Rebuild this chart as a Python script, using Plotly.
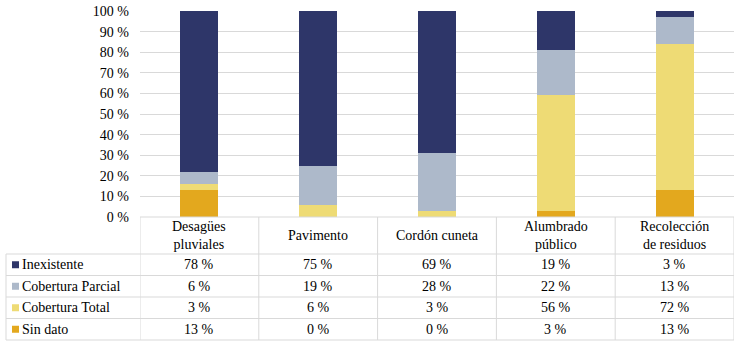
import plotly.graph_objects as go

# ---------------- data ----------------
categories = ["Desagües pluviales", "Pavimento", "Cordón cuneta",
              "Alumbrado público", "Recolección de residuos"]
category_labels = ["Desagües<br>pluviales", "Pavimento", "Cordón cuneta",
                   "Alumbrado<br>público", "Recolección<br>de residuos"]
series_names = ["Inexistente", "Cobertura Parcial", "Cobertura Total", "Sin dato"]
inexistente = [78, 75, 69, 19, 3]
cobertura_parcial = [6, 19, 28, 22, 13]
cobertura_total = [3, 6, 3, 56, 72]
sin_dato = [13, 0, 0, 3, 13]
series_values = [inexistente, cobertura_parcial, cobertura_total, sin_dato]
series_colors = ["#2E3669", "#ADB9CA", "#EEDB75", "#E3A81E"]
y_ticks = [0, 10, 20, 30, 40, 50, 60, 70, 80, 90, 100]
y_tick_labels = [f"{v} %" for v in y_ticks]

# ---------------- geometry helpers ----------------
W, H = 738, 345
def px(x):
    return x / W
def py(y):
    return 1 - y / H

FONT = "Liberation Serif"
FS = 14
GRID = "#d9d9d9"
plot_left, plot_right, plot_top, plot_bottom = 140, 734, 10.8, 217
header_bottom = 254
row_h = 21.5
table_left = 6

fig = go.Figure()

# stacked bars (bottom first)
for name, vals, col in reversed(list(zip(series_names, series_values, series_colors))):
    fig.add_trace(go.Bar(x=categories, y=vals, name=name, marker_color=col,
                         marker_line_width=0, hoverinfo="skip"))

shapes = []
annotations = []

# horizontal table lines
shapes.append(dict(type="line", xref="paper", yref="paper",
                   x0=px(plot_left), x1=px(plot_right), y0=py(plot_bottom), y1=py(plot_bottom),
                   line=dict(color=GRID, width=1)))
for i in range(len(series_names) + 1):
    yy = header_bottom + i * row_h
    shapes.append(dict(type="line", xref="paper", yref="paper",
                       x0=px(table_left), x1=px(plot_right), y0=py(yy), y1=py(yy),
                       line=dict(color=GRID, width=1)))
table_bottom = header_bottom + len(series_names) * row_h

# vertical table lines
shapes.append(dict(type="line", xref="paper", yref="paper",
                   x0=px(table_left), x1=px(table_left), y0=py(header_bottom), y1=py(table_bottom),
                   line=dict(color=GRID, width=1)))
for j in range(len(categories) + 1):
    shapes.append(dict(type="line", xref="x", yref="paper",
                       x0=j - 0.5, x1=j - 0.5, y0=py(plot_bottom), y1=py(table_bottom),
                       line=dict(color=GRID, width=1)))

# header labels
for cat, lab in zip(categories, category_labels):
    annotations.append(dict(x=cat, xref="x", y=py((plot_bottom + header_bottom) / 2), yref="paper",
                            text=lab, showarrow=False, xanchor="center", yanchor="middle",
                            font=dict(family=FONT, size=FS, color="#000000")))

# rows
for i, (name, vals, col) in enumerate(zip(series_names, series_values, series_colors)):
    yc = header_bottom + i * row_h + row_h / 2
    shapes.append(dict(type="rect", xref="paper", yref="paper",
                       x0=px(12), x1=px(19), y0=py(yc + 3.5), y1=py(yc - 3.5),
                       fillcolor=col, line=dict(width=0)))
    annotations.append(dict(x=px(20), xref="paper", y=py(yc), yref="paper",
                            text=name, showarrow=False, xanchor="left", yanchor="middle",
                            font=dict(family=FONT, size=FS, color="#000000")))
    for cat, v in zip(categories, vals):
        annotations.append(dict(x=cat, xref="x", y=py(yc), yref="paper",
                                text=f"{v} %", showarrow=False, xanchor="center", yanchor="middle",
                                font=dict(family=FONT, size=FS, color="#000000")))

fig.update_layout(
    template="none",
    width=W, height=H,
    margin=dict(l=0, r=0, t=0, b=0),
    paper_bgcolor="white", plot_bgcolor="white",
    barmode="stack", barnorm="percent", bargap=0.68,
    showlegend=False,
    font=dict(family=FONT, size=FS, color="#000000"),
    xaxis=dict(domain=[px(plot_left), px(plot_right)], range=[-0.5, 4.5],
               showticklabels=False, showgrid=False, zeroline=False, showline=False,
               ticks="", fixedrange=True),
    yaxis=dict(domain=[py(plot_bottom), py(plot_top)], range=[0, 100.1],
               tickvals=y_ticks, ticktext=y_tick_labels,
               showgrid=True, gridcolor=GRID, gridwidth=1,
               zeroline=False, showline=False, ticks="", automargin=False,
               ticklabelstandoff=10, ticklabeloverflow="allow", fixedrange=True,
               tickfont=dict(family=FONT, size=FS, color="#000000")),
    shapes=shapes, annotations=annotations,
)

fig.write_html("out.html", config={"displayModeBar": False},
               post_script="document.body.style.margin='0';document.body.style.padding='0';")
